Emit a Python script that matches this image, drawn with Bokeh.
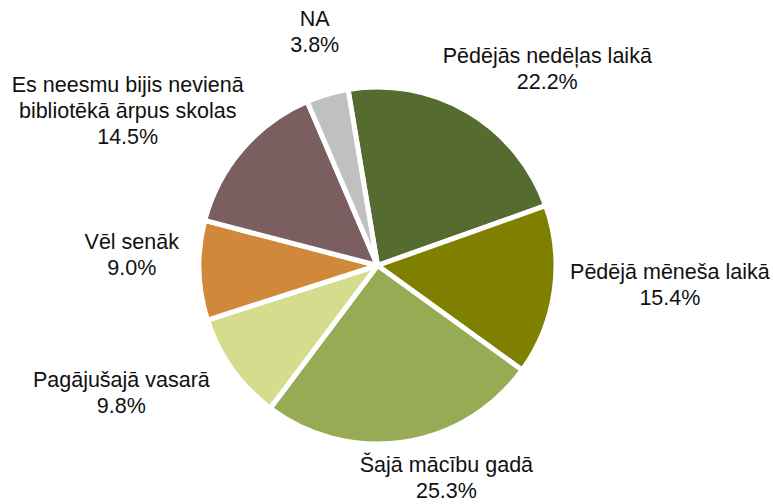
import math
from bokeh.plotting import figure
from bokeh.models import Range1d, ColumnDataSource
from bokeh.embed import file_html
from bokeh.resources import INLINE
from bokeh.core.properties import value

# ---- data ----
categories = ["Pēdējās nedēļas laikā", "Pēdējā mēneša laikā", "Šajā mācību gadā",
              "Pagājušajā vasarā", "Vēl senāk",
              "Es neesmu bijis nevienā bibliotēkā ārpus skolas", "NA"]
label_lines = [["Pēdējās nedēļas laikā"], ["Pēdējā mēneša laikā"], ["Šajā mācību gadā"],
               ["Pagājušajā vasarā"], ["Vēl senāk"],
               ["Es neesmu bijis nevienā", "bibliotēkā ārpus skolas"], ["NA"]]
shares = [22.2, 15.4, 25.3, 9.8, 9.0, 14.5, 3.8]

# ---- style / layout ----
colors = ["#556B2F", "#808000", "#97AB55", "#D5DC8E", "#D0893A", "#7B5E5F", "#C0C0C0"]
W_PAGE, H_PAGE = 773, 504
CX, CY = 377, 265          # pie centre (picture px)
RADIUS = 178.5
START = -9.5               # degrees clockwise from 12 o'clock
# label placement: angle nudge (deg) from slice mid-angle and distance from centre
label_nudge = [10.3, -4.4, -9.4, 9.0, 4.2, -8.9, 1.3]
label_dist = [260, 293, 223, 286, 246, 294, 242]
FS = 21.5
LH = 26
CAP = 15
BASE_SHIFT = -7


def to_y(pic_y):
    return H_PAGE - pic_y


p = figure(width=W_PAGE, height=H_PAGE, x_range=Range1d(0, W_PAGE), y_range=Range1d(0, H_PAGE),
           output_backend="svg", toolbar_location=None, min_border=0)
p.axis.visible = False
p.grid.visible = False
p.outline_line_color = None
p.background_fill_color = "white"
p.border_fill_color = "white"

total = sum(shares)
starts, ends, mids = [], [], []
acc = START
for v in shares:
    a0 = acc
    a1 = acc + v / total * 360.0
    starts.append(math.radians(90 - a0))
    ends.append(math.radians(90 - a1))
    mids.append((a0 + a1) / 2)
    acc = a1

src = ColumnDataSource(dict(x=[CX] * len(shares), y=[to_y(CY)] * len(shares),
                            start=starts, end=ends, color=colors, cat=categories))
p.wedge(x="x", y="y", radius=RADIUS, start_angle="start", end_angle="end",
        direction="clock", fill_color="color", line_color="white", line_width=5,
        source=src)

tx, ty, tt = [], [], []
for lines, v, m, dn, r in zip(label_lines, shares, mids, label_nudge, label_dist):
    allines = lines + [f"{v:.1f}%"]
    a = math.radians(m + dn)
    ax, ay = CX + r * math.sin(a), CY - r * math.cos(a)
    block_h = CAP + (len(allines) - 1) * LH
    first_base = ay - block_h / 2 + CAP + BASE_SHIFT
    for i, t in enumerate(allines):
        tx.append(ax)
        ty.append(to_y(first_base + i * LH))
        tt.append(t)

p.text(x=tx, y=ty, text=tt, text_align="center", text_baseline="alphabetic",
       text_font=value("Liberation Sans"), text_font_size=f"{FS}px", text_color="#111111")

html = file_html(p, INLINE)
html = html.replace("<head>", "<head><style>html,body{margin:0;padding:0;overflow:hidden}</style>", 1)
open("out.html", "w").write(html)
